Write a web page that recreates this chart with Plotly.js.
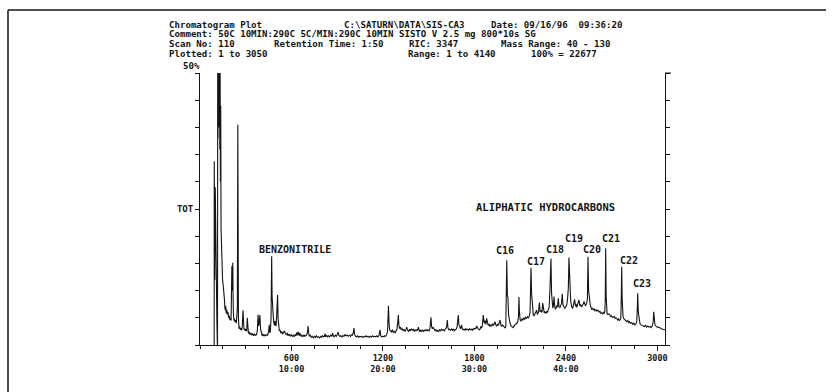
<!DOCTYPE html>
<html>
<head>
<meta charset="utf-8">
<script src="https://cdn.plot.ly/plotly-3.0.1.min.js"></script>
<style>html,body{margin:0;padding:0;background:#fff;}#chart{width:834px;height:392px;}</style>
</head>
<body>
<div id="chart"></div>
<script>
// Scan numbers (x) and total ion current in % of full scale (y)
var scans = [90,93,93.5,95,97,100,103,105,108,111,114,115,116,118,120,122,124,126,128,130,132,134,136,138,141,144,148,152,156,160,164,168,172,176,180,184,188,192,196,200,204,207,209,211,213,215,217,219,222,226,230,234,238,242,245,248,250,252,256,260,264,268,273,277,282,285,289,293,297,302,306,310,313,318,323,328,334,340,346,352,358,364,370,376,381,385,389,393,397,402,408,414,420,426,432,438,444,450,454,458,462,466,470,473,476,480,484,488,492,496,500,505,509,512,516,520,525,530,536,542,548,554,560,566,572,578,585,592,598,605,612,618,624,630,636,640,645,650,656,662,668,675,682,688,694,700,705,709,713,718,724,730,737,744,750,757,764,770,777,784,790,797,804,810,816,820,824,830,836,843,850,857,864,870,874,880,887,894,900,905,910,917,924,930,937,944,951,958,965,972,980,987,994,1000,1005,1010,1014,1020,1027,1034,1041,1048,1055,1062,1069,1076,1083,1090,1097,1104,1111,1118,1125,1132,1139,1146,1153,1160,1167,1174,1181,1185,1192,1199,1206,1212,1218,1224,1230,1236,1240,1244,1250,1256,1262,1268,1274,1280,1286,1292,1297,1301,1305,1310,1315,1320,1326,1332,1338,1344,1350,1356,1362,1368,1374,1380,1386,1392,1398,1404,1410,1416,1422,1428,1432,1436,1442,1448,1454,1460,1466,1472,1478,1484,1490,1496,1502,1508,1512,1515,1519,1524,1530,1536,1542,1548,1554,1560,1566,1572,1578,1584,1590,1596,1602,1608,1614,1619,1622,1626,1632,1638,1644,1650,1656,1662,1668,1674,1680,1686,1690,1694,1698,1703,1708,1712,1716,1720,1726,1732,1738,1744,1750,1756,1762,1768,1774,1780,1786,1792,1798,1804,1810,1815,1820,1826,1832,1837,1842,1847,1852,1858,1862,1866,1870,1875,1880,1885,1890,1896,1902,1908,1914,1920,1926,1930,1935,1940,1946,1952,1958,1963,1968,1973,1978,1984,1990,1996,2002,2006,2010,2012,2016,2020,2024,2028,2034,2040,2048,2055,2062,2070,2077,2084,2089,2092,2095,2100,2106,2112,2118,2124,2130,2136,2142,2148,2154,2160,2165,2168,2171,2175,2180,2186,2191,2198,2204,2208,2213,2220,2226,2231,2237,2243,2248,2253,2258,2263,2269,2275,2280,2285,2290,2296,2302,2306,2309,2314,2318,2322,2327,2331,2335,2340,2345,2350,2355,2361,2366,2371,2376,2381,2388,2394,2400,2406,2412,2416,2420,2424,2428,2431,2436,2440,2444,2450,2457,2463,2467,2471,2477,2482,2486,2491,2497,2503,2508,2514,2519,2524,2528,2532,2537,2541,2545,2549,2554,2560,2565,2569,2575,2580,2586,2591,2597,2603,2608,2613,2619,2624,2630,2635,2640,2645,2650,2655,2658,2661,2664,2667,2670,2676,2682,2689,2695,2700,2705,2711,2717,2722,2728,2733,2739,2744,2750,2755,2760,2763,2766,2769,2772,2775,2781,2787,2793,2799,2806,2812,2818,2825,2832,2839,2846,2853,2860,2865,2868,2871,2875,2880,2886,2893,2900,2908,2915,2922,2930,2937,2944,2952,2960,2968,2973,2976,2980,2984,2990,2997,3004,3010,3017,3024,3030,3037,3043,3050];
var tic = [0,0,33.8,20,12,29,18,14,9,4,0,0,52,38,58,44,60,40,55,36,52,30,44,21.5,17,14,12,11,10,8.5,6.5,7.2,5.8,6.5,5.6,6.0,5.0,5.4,4.6,5.0,4.5,9,14.5,12,10,15.1,9,6,4.5,4.8,4.2,4.6,4.0,5,6.8,40.5,10,5,3,3.4,2.8,3.1,2.7,3.3,6.4,3.2,2.8,3.0,2.6,2.9,2.5,5.0,2.6,2.1,2.4,1.9,2.2,1.8,2.1,1.7,2.0,1.8,1.9,2.6,5.6,3.5,4.2,5.5,3.0,2.0,1.7,2.0,1.6,1.9,1.7,1.9,1.8,2.6,3.7,2.2,2.6,5.0,16.3,9,6.5,5.5,4.2,3.6,4.4,3.5,3.8,6,9.2,5,3.3,2.6,2.8,2.2,2.5,2.0,2.3,2.6,2.1,1.9,2.2,1.7,2.0,1.6,1.9,1.6,1.8,1.5,1.9,1.7,2.3,1.8,2.4,1.7,2.2,1.6,1.8,1.5,1.9,1.6,1.7,1.9,2.4,3.5,2.1,1.6,1.8,1.4,1.6,1.3,1.6,1.4,1.7,1.4,1.5,1.3,1.6,1.4,1.7,1.5,1.6,2.1,1.5,1.8,1.5,1.7,1.5,1.8,1.6,2.2,1.7,1.5,1.8,1.6,1.9,2.4,1.8,1.6,1.7,1.5,1.7,1.6,1.9,1.7,1.8,1.6,1.8,1.6,1.9,1.8,2.2,3.1,2.0,1.6,1.5,1.7,1.4,1.6,1.5,1.6,1.4,1.6,1.5,1.7,1.5,1.6,1.4,1.6,1.5,1.7,1.5,1.6,1.5,1.7,1.5,1.8,2.8,1.7,1.5,1.6,1.5,1.7,1.6,1.9,2.5,7.2,4.0,2.8,2.6,2.4,2.8,2.3,2.5,2.2,2.6,2.9,4.2,5.5,3.5,3.0,3.3,2.8,3.0,2.6,2.9,2.5,2.8,3.3,2.7,2.5,2.9,2.6,3.0,2.7,2.9,2.5,2.8,2.6,2.8,2.7,3.3,2.6,2.4,2.7,2.5,2.8,2.5,2.7,2.6,2.9,2.6,2.8,2.6,3.0,4.0,5.1,3.4,3.0,3.2,2.8,2.6,2.8,2.5,2.7,2.5,2.8,2.6,2.9,2.7,2.8,2.6,2.9,3.1,3.6,4.6,3.2,2.8,2.9,2.7,3.0,2.7,2.9,2.6,2.8,2.9,3.3,4.4,5.5,3.8,3.3,3.0,3.2,3.7,3.0,2.8,2.9,2.7,3.0,2.8,2.9,2.7,3.0,2.8,2.9,2.7,3.0,2.9,3.1,3.0,3.5,3.0,2.9,2.8,2.9,3.4,3.1,3.6,5.5,4.4,4.0,4.5,3.8,4.9,3.9,3.6,3.8,3.4,3.7,3.5,3.9,3.6,3.9,4.3,3.7,3.5,3.8,3.6,4.1,4.6,3.8,3.4,3.7,3.5,3.2,3.1,3.5,9.2,15.6,9.2,8.6,5.5,4.6,4.0,3.5,3.3,3.2,3.6,3.8,4.0,4.2,5.2,8.8,6.2,4.6,4.4,4.8,4.6,5.0,4.7,5.1,4.9,5.2,5.0,5.3,6.0,10,14.2,9.5,6.6,5.5,5.4,5.8,6.2,6.4,5.6,6.0,7.8,6.1,6.3,6.0,7.7,6.2,5.9,6.1,5.8,6.2,6.0,6.6,6.9,10.7,15.9,9.5,7.0,6.8,7.2,8.9,7.0,6.6,6.7,7.3,7.0,8.6,7.0,6.9,7.3,7.6,9.4,7.4,7.0,6.7,7.1,7.4,8.9,10.5,16.1,11,8.8,8.3,7.2,6.9,6.7,7.4,8.4,7.1,7.5,6.9,7.4,7.6,8.3,7.2,7.4,7.0,7.5,7.6,8.0,7.3,7.2,7.4,7.7,8.5,16.2,10,8.0,7.3,6.9,6.6,6.8,6.4,6.6,6.3,6.5,6.2,6.4,6.4,6.0,6.2,5.8,5.9,5.7,6.0,5.8,6.1,8,17.8,9,6.4,5.8,5.6,5.7,5.5,5.2,5.4,5.1,5.1,5.3,4.9,5.0,4.9,4.6,4.8,4.5,4.6,4.9,8,14.4,8.5,6.2,5.2,4.8,4.6,4.4,4.3,4.5,4.1,4.3,4.0,4.1,3.8,4.0,3.7,3.9,4.4,6.5,9.5,6.0,4.3,3.9,3.7,3.6,3.5,3.4,3.6,3.3,3.5,3.3,3.4,3.2,3.6,4.4,6.1,4.4,3.7,3.5,3.3,3.2,3.3,3.1,3.0,2.9,2.9,2.8,2.8];

// Axis ticks
var xTickVals = [600, 1200, 1800, 2400, 3000];
var xTickText = ['600<br>10:00', '1200<br>20:00', '1800<br>30:00', '2400<br>40:00', '3000'];
var yTickVals = [0, 5, 10, 15, 20, 25, 30, 35, 40, 45, 50];
var yTickText = ['', '', '', '', '', 'TOT', '', '', '', '', ''];

// Peak labels
var peakNames = ['C16', 'C17', 'C18', 'C19', 'C20', 'C21', 'C22', 'C23'];
var peakLabelX = [2000, 2204, 2328, 2450, 2574, 2699, 2814, 2902];
var peakLabelY = [17.3, 15.4, 17.5, 19.5, 17.5, 19.5, 15.5, 11.3];

var mono = 'DejaVu Sans Mono, Liberation Mono, monospace';
var ink = '#141414';

var L = 200, R = 665, T = 73, B = 345;
function px(x) { return (x - L) / (R - L); }
function py(y) { return (B - y) / (B - T); }

var annotations = [];
function hdr(text, x, y, size) {
  annotations.push({text: text, xref: 'paper', yref: 'paper', x: px(x), y: py(y),
    xanchor: 'left', yanchor: 'middle', showarrow: false, borderpad: 0,
    font: {family: mono, size: size || 9.1, color: ink, weight: 'bold'}});
}
hdr('Chromatogram Plot', 168, 24.6);
hdr('C:\\SATURN\\DATA\\SIS-CA3', 343, 24.6);
hdr('Date: 09/16/96  09:36:20', 490, 24.6);
hdr('Comment: 50C 10MIN:290C 5C/MIN:290C 10MIN SISTO V 2.5 mg 800*10s SG', 168, 34.3);
hdr('Scan No: 110', 168, 44.0);
hdr('Retention Time: 1:50', 273, 44.0);
hdr('RIC: 3347', 408, 44.0);
hdr('Mass Range: 40 - 130', 500, 44.0);
hdr('Plotted: 1 to 3050', 168, 53.7);
hdr('Range: 1 to 4140', 407, 53.7);
hdr('100% = 22677', 530, 53.7);
hdr('50%', 182, 66);

for (var i = 0; i < peakNames.length; i++) {
  annotations.push({text: peakNames[i], xref: 'x', yref: 'y', x: peakLabelX[i], y: peakLabelY[i],
    xanchor: 'center', yanchor: 'middle', showarrow: false, borderpad: 0,
    font: {family: mono, size: 10, color: ink, weight: 'bold'}});
}
annotations.push({text: 'BENZONITRILE', xref: 'x', yref: 'y', x: 620, y: 17.5,
  xanchor: 'center', yanchor: 'middle', showarrow: false, borderpad: 0,
  font: {family: mono, size: 10, color: ink, weight: 'bold'}});
annotations.push({text: 'ALIPHATIC HYDROCARBONS', xref: 'x', yref: 'y', x: 2263, y: 25.4,
  xanchor: 'center', yanchor: 'middle', showarrow: false, borderpad: 0,
  font: {family: mono, size: 10.5, color: ink, weight: 'bold'}});

var shapes = [
  {type: 'line', xref: 'paper', yref: 'paper', x0: px(8), x1: px(826), y0: py(10), y1: py(10), line: {color: ink, width: 1.5}},
  {type: 'line', xref: 'paper', yref: 'paper', x0: px(8), x1: px(8), y0: py(10), y1: py(392), line: {color: ink, width: 1.5}},
  {type: 'line', xref: 'paper', yref: 'paper', x0: 1, x1: px(671), y0: 1, y1: 1, line: {color: ink, width: 1}}
];

var trace = {x: scans, y: tic, type: 'scatter', mode: 'lines',
  line: {color: ink, width: 1.1}, hoverinfo: 'skip', showlegend: false};

var layout = {
  width: 834, height: 392,
  margin: {l: L, r: 834 - R, t: T, b: 392 - B, pad: 0},
  paper_bgcolor: '#fff', plot_bgcolor: '#fff',
  showlegend: false,
  xaxis: {range: [0, 3050], showgrid: false, zeroline: false, showline: true,
    linecolor: ink, linewidth: 1, ticks: 'outside', ticklen: 5, tickwidth: 1, tickcolor: ink,
    tickmode: 'array', tickvals: xTickVals, ticktext: xTickText,
    tickfont: {family: mono, size: 8.5, color: ink, weight: 'bold'},
    minor: {tick0: 0, dtick: 150, ticks: 'outside', ticklen: 3, tickcolor: ink, showgrid: false}},
  yaxis: {range: [0, 50], showgrid: false, zeroline: false, showline: true, mirror: 'ticks',
    linecolor: ink, linewidth: 1, ticks: 'outside', ticklen: 4, tickwidth: 1, tickcolor: ink,
    tickmode: 'array', tickvals: yTickVals, ticktext: yTickText,
    tickfont: {family: mono, size: 9, color: ink, weight: 'bold'}},
  annotations: annotations,
  shapes: shapes
};

Plotly.newPlot('chart', [trace], layout, {staticPlot: true, displayModeBar: false});
</script>
</body>
</html>
